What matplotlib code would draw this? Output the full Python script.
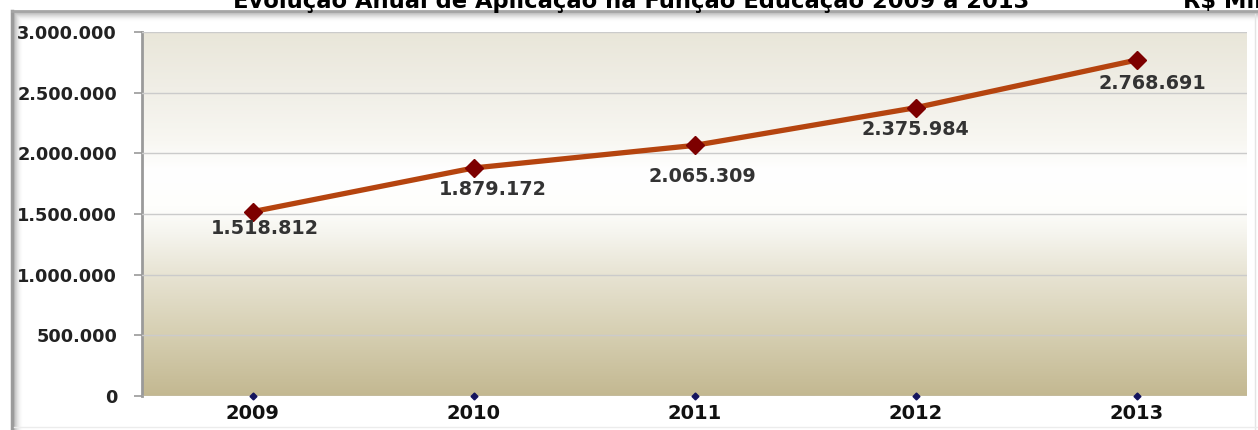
import numpy as np
import matplotlib
matplotlib.use('Agg')
import matplotlib.pyplot as plt
from matplotlib.colors import LinearSegmentedColormap, to_rgb

years = ['2009', '2010', '2011', '2012', '2013']
valores = [1518812, 1879172, 2065309, 2375984, 2768691]
rotulos = ['1.518.812', '1.879.172', '2.065.309', '2.375.984', '2.768.691']
base = [0, 0, 0, 0, 0]
y_ticks = [0, 500000, 1000000, 1500000, 2000000, 2500000, 3000000]
y_labels = ['0', '500.000', '1.000.000', '1.500.000', '2.000.000', '2.500.000', '3.000.000']

# label offsets in pixels (right, down) from each point
label_offsets = [(12, 17), (19, 22), (8, 31), (0, 22), (16, 23)]

LINE_COLOR = '#b5440f'
MARKER_COLOR = '#7d0000'
DOT_COLOR = '#14145e'
FONT = 'DejaVu Sans'

W, H = 1258, 430
fig = plt.figure(figsize=(W / 100, H / 100), dpi=100)
fig.patch.set_facecolor('white')

# background frame with a soft shadow on the left and top edges
frame = fig.add_axes([0, 0, 1, 1], zorder=-1)
frame.set_xlim(0, W)
frame.set_ylim(H, 0)
frame.axis('off')
for i in range(10):
    a = 0.55 * (1 - i / 10) ** 2
    frame.plot([13 + i, 13 + i], [12 + i, H], color='#8c8c8c', alpha=a, lw=1.2, solid_capstyle='butt')
    frame.plot([13 + i, W], [12 + i, 12 + i], color='#8c8c8c', alpha=a * 0.9, lw=1.2, solid_capstyle='butt')
frame.plot([12, 12], [11, H], color='#9b9b9b', lw=2.5)
frame.plot([12, W], [11, 11], color='#a5a5a5', lw=2)
frame.plot([W - 3, W - 3], [14, H], color='#e4e4e4', lw=1)
frame.plot([14, W], [H - 3, H - 3], color='#ececec', lw=1)

ax = fig.add_axes([142 / W, 34 / H, 1105 / W, 364 / H])
ax.set_xlim(-0.5, len(years) - 0.5)
ax.set_ylim(0, 3000000)

# vertical gradient: tan at the bottom, white in the middle, pale beige at the top
stops = [(0.0, '#c3b891'), (0.17, '#d6cfb2'), (0.33, '#e7e3d2'), (0.45, '#f6f5ef'),
         (0.52, '#fefefc'), (0.62, '#ffffff'), (0.7, '#f8f7f2'), (0.85, '#f0eee6'),
         (1.0, '#e9e6d9')]
cmap = LinearSegmentedColormap.from_list('fundo', [(p, to_rgb(c)) for p, c in stops])
grad = np.linspace(0, 1, 256).reshape(-1, 1)
ax.imshow(grad, cmap=cmap, aspect='auto', origin='lower',
          extent=[-0.5, len(years) - 0.5, 0, 3000000], zorder=0)

ax.set_yticks(y_ticks)
ax.set_yticklabels(y_labels, fontsize=12.8, fontweight='bold', family=FONT, color='#222222')
ax.set_xticks(range(len(years)))
ax.set_xticklabels(years, fontsize=14, fontweight='bold', family=FONT, color='#111111')
ax.tick_params(axis='y', length=6, width=1.2, color='#9a9a9a', pad=12)
ax.tick_params(axis='x', length=0, pad=6)
ax.yaxis.grid(True, color='#cbcbcb', linewidth=1)
ax.set_axisbelow(False)
for gl in ax.get_ygridlines():
    gl.set_zorder(1)

for s in ['top', 'right', 'bottom']:
    ax.spines[s].set_visible(False)
ax.spines['left'].set_color('#9a9a9a')
ax.spines['left'].set_linewidth(2)

x = np.arange(len(years))
ax.plot(x, valores, color=LINE_COLOR, linewidth=3.8, zorder=3)
ax.plot(x, valores, linestyle='none', marker='D', markersize=9.5,
        color=MARKER_COLOR, zorder=4)
ax.plot(x, base, linestyle='none', marker='D', markersize=3.5,
        color=DOT_COLOR, zorder=4, clip_on=False)

for xi, v, txt, (dx, dy) in zip(x, valores, rotulos, label_offsets):
    ax.annotate(txt, (xi, v), xytext=(dx, -dy), textcoords='offset pixels',
                ha='center', va='center', fontsize=13.8, fontweight='bold',
                family=FONT, color='#333333', zorder=5)

fig.text(631 / W, 1 - 8 / H, 'Evolução Anual de Aplicação na Função Educação 2009 a 2013',
         ha='center', va='baseline', fontsize=16.3, fontweight='bold', family=FONT, color='black')
fig.text(1183 / W, 1 - 8 / H, 'R$ Mil', ha='left', va='baseline',
         fontsize=16.3, fontweight='bold', family=FONT, color='black')

fig.savefig('out.png', dpi=100, facecolor='white')
